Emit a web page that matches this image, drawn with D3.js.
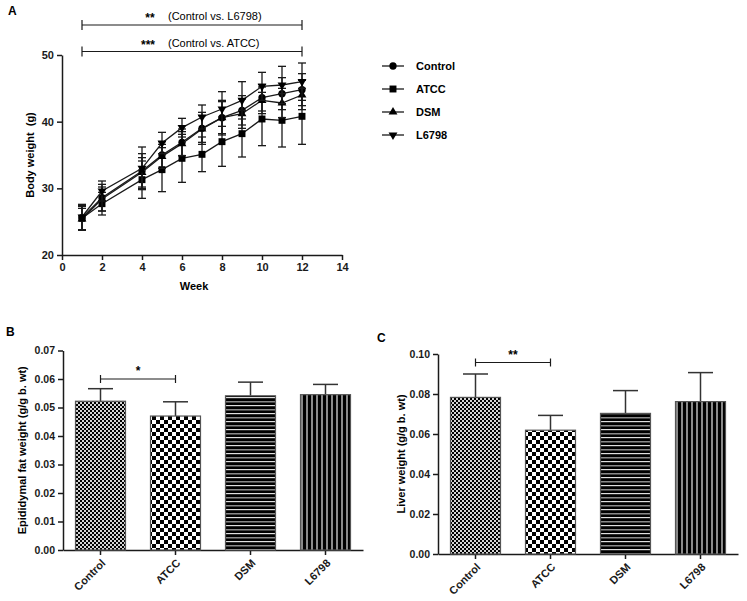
<!DOCTYPE html>
<html><head><meta charset="utf-8">
<script src="https://cdn.jsdelivr.net/npm/d3@7"></script>
<style>
body{margin:0;background:#fff;}
text{font-family:"Liberation Sans",Arial,sans-serif;}
</style></head>
<body>
<svg id="c" width="747" height="601"></svg>
<script>
// ---- Data ----
const weeks = [1,2,4,5,6,7,8,9,10,11,12];
const seriesNames = ["Control","ATCC","DSM","L6798"];
const controlW = [25.6, 28.6, 32.6, 35.0, 36.9, 39.0, 40.6, 41.7, 43.6, 44.2, 44.8];
const atccW    = [25.5, 27.7, 31.3, 32.8, 34.5, 35.1, 37.0, 38.2, 40.4, 40.2, 40.8];
const dsmW     = [25.4, 28.4, 32.4, 34.8, 36.7, 38.9, 40.6, 41.2, 43.2, 42.8, 44.0];
const l6798W   = [25.7, 29.6, 33.0, 36.8, 39.1, 40.7, 41.9, 43.2, 45.3, 45.5, 46.0];
const controlSD = [1.8, 2.0, 2.6, 2.0, 2.0, 2.4, 2.6, 2.2, 2.0, 2.4, 2.4];
const atccSD    = [1.8, 1.7, 2.8, 3.3, 3.6, 2.6, 3.7, 3.5, 4.0, 4.0, 4.2];
const dsmSD     = [1.6, 1.8, 2.2, 1.8, 1.8, 2.0, 2.4, 2.2, 2.0, 2.2, 2.2];
const l6798SD   = [1.9, 1.5, 3.2, 1.6, 1.4, 1.8, 2.6, 2.8, 2.1, 2.8, 2.8];
const xTicksA = [0,2,4,6,8,10,12,14];
const yTicksA = [20,30,40,50];

const groups = ["Control","ATCC","DSM","L6798"];
const fatMean = [0.0522, 0.0470, 0.0541, 0.0545];
const fatSD   = [0.0044, 0.0050, 0.0048, 0.0036];
const liverMean = [0.0783, 0.0619, 0.0703, 0.0762];
const liverSD   = [0.0117, 0.0074, 0.0114, 0.0145];
const yTicksB = [0,0.01,0.02,0.03,0.04,0.05,0.06,0.07];
const yTicksC = [0,0.02,0.04,0.06,0.08,0.10];

const svg = d3.select("#c");
const ink = "#1a1a1a";

// ---- Patterns ----
const defs = svg.append("defs");
let p = defs.append("pattern").attr("id","pCtrl").attr("patternUnits","userSpaceOnUse").attr("width",4).attr("height",4);
p.append("rect").attr("width",4).attr("height",4).attr("fill","#d4d4d4");
p.append("rect").attr("width",2).attr("height",2).attr("fill","#000");
p.append("rect").attr("x",2).attr("y",2).attr("width",2).attr("height",2).attr("fill","#000");
p = defs.append("pattern").attr("id","pAtcc").attr("patternUnits","userSpaceOnUse").attr("width",8).attr("height",8);
p.append("rect").attr("width",8).attr("height",8).attr("fill","#fff");
p.append("rect").attr("width",4).attr("height",4).attr("fill","#000");
p.append("rect").attr("x",4).attr("y",4).attr("width",4).attr("height",4).attr("fill","#000");
p = defs.append("pattern").attr("id","pDsm").attr("patternUnits","userSpaceOnUse").attr("width",8).attr("height",8);
p.append("rect").attr("width",8).attr("height",8).attr("fill","#000");
p.append("rect").attr("y",1).attr("width",8).attr("height",1.5).attr("fill","#8a8a8a");
p.append("rect").attr("y",5).attr("width",8).attr("height",1.2).attr("fill","#e0e0e0");
p = defs.append("pattern").attr("id","pL").attr("patternUnits","userSpaceOnUse").attr("width",5).attr("height",5);
p.append("rect").attr("width",5).attr("height",5).attr("fill","#000");
p.append("rect").attr("x",1).attr("width",2).attr("height",5).attr("fill","#8a8a8a");
const fills = ["url(#pCtrl)","url(#pAtcc)","url(#pDsm)","url(#pL)"];

function styleAxis(g){
  g.selectAll("path").attr("stroke",ink).attr("stroke-width",1.5);
  g.selectAll("line").attr("stroke",ink).attr("stroke-width",1.5);
  g.selectAll("text").attr("font-size",11).attr("font-weight","bold").attr("fill",ink);
}

// ---- Panel A ----
const xA = d3.scaleLinear().domain([0,14]).range([62,342]);
const yA = d3.scaleLinear().domain([20,50]).range([255,55]);
const gxA = svg.append("g").attr("transform","translate(0,255)")
  .call(d3.axisBottom(xA).tickValues(xTicksA).tickSize(5).tickSizeOuter(0).tickFormat(d3.format("d")));
styleAxis(gxA);
const gyA = svg.append("g").attr("transform","translate(62,0)")
  .call(d3.axisLeft(yA).tickValues(yTicksA).tickSize(5).tickSizeOuter(0));
styleAxis(gyA);
svg.append("text").attr("x",(xA(0)+xA(14))/2 - 8).attr("y",290).attr("text-anchor","middle")
  .attr("font-size",11).attr("font-weight","bold").text("Week");
svg.append("text").attr("transform","translate(34,155) rotate(-90)").attr("text-anchor","middle")
  .attr("font-size",11).attr("font-weight","bold").attr("xml:space","preserve").text("Body weight  (g)");
svg.append("text").attr("x",8).attr("y",15).attr("font-size",12).attr("font-weight","bold").text("A");

const seriesVals = [controlW, atccW, dsmW, l6798W];
const seriesSD = [controlSD, atccSD, dsmSD, l6798SD];
const symbols = [d3.symbolCircle, d3.symbolSquare, d3.symbolTriangle, d3.symbolTriangle];
const symSize = [42, 48, 34, 34];
const symRot = [0,0,0,180];
const line = d3.line().x(d=>xA(d[0])).y(d=>yA(d[1]));
seriesVals.forEach((vals, si) => {
  const pts = weeks.map((w,i)=>[w, vals[i], seriesSD[si][i]]);
  const g = svg.append("g");
  pts.forEach(d=>{
    const x = xA(d[0]);
    g.append("line").attr("x1",x).attr("x2",x).attr("y1",yA(d[1]-d[2])).attr("y2",yA(d[1]+d[2])).attr("stroke",ink).attr("stroke-width",1.3);
    [d[1]-d[2], d[1]+d[2]].forEach(v=>{
      g.append("line").attr("x1",x-4).attr("x2",x+4).attr("y1",yA(v)).attr("y2",yA(v)).attr("stroke",ink).attr("stroke-width",1.3);
    });
  });
  g.append("path").datum(pts).attr("d",line).attr("fill","none").attr("stroke",ink).attr("stroke-width",1.3);
  pts.forEach(d=>{
    g.append("path").attr("d",d3.symbol().type(symbols[si]).size(symSize[si])())
      .attr("transform",`translate(${xA(d[0])},${yA(d[1])}) rotate(${symRot[si]})`).attr("fill","#000");
  });
});

// significance brackets A
function bracket(x1,x2,y,h){
  svg.append("line").attr("x1",x1).attr("x2",x2).attr("y1",y).attr("y2",y).attr("stroke",ink).attr("stroke-width",1.2);
  [x1,x2].forEach(x=>svg.append("line").attr("x1",x).attr("x2",x).attr("y1",y-h).attr("y2",y+h).attr("stroke",ink).attr("stroke-width",1.2));
}
bracket(xA(1),xA(12),25,5);
bracket(xA(1),xA(12),51.5,5);
svg.append("text").attr("x",150).attr("y",22).attr("text-anchor","middle").attr("font-size",12).attr("font-weight","bold").text("**");
svg.append("text").attr("x",168).attr("y",20).attr("font-size",11).text("(Control vs. L6798)");
svg.append("text").attr("x",148).attr("y",49).attr("text-anchor","middle").attr("font-size",12).attr("font-weight","bold").text("***");
svg.append("text").attr("x",168).attr("y",47).attr("font-size",11).text("(Control vs. ATCC)");

// legend
seriesNames.forEach((n,i)=>{
  const y = 66 + i*23;
  svg.append("line").attr("x1",382).attr("x2",404).attr("y1",y).attr("y2",y).attr("stroke",ink).attr("stroke-width",1.3);
  svg.append("path").attr("d",d3.symbol().type(symbols[i]).size(symSize[i])())
    .attr("transform",`translate(393,${y}) rotate(${symRot[i]})`).attr("fill","#000");
  svg.append("text").attr("x",416).attr("y",y+4).attr("font-size",11).attr("font-weight","bold").text(n);
});

// ---- Bar panels ----
function barPanel(opts){
  const x = d3.scaleBand().domain(groups).range([opts.x0, opts.x0+300]).paddingInner(1/3).paddingOuter(1/6);
  const y = d3.scaleLinear().domain(opts.ydom).range([opts.y0, opts.y1]);
  const gx = svg.append("g").attr("transform",`translate(0,${opts.y0})`)
    .call(d3.axisBottom(x).tickSize(5).tickSizeOuter(0));
  styleAxis(gx);
  gx.selectAll("text").attr("text-anchor","end").attr("font-size",11)
    .attr("x",0).attr("y",0).attr("dy","0.35em")
    .attr("transform","translate(3,11) rotate(-45)");
  const gy = svg.append("g").attr("transform",`translate(${opts.x0},0)`)
    .call(d3.axisLeft(y).tickValues(opts.ticks).tickSize(5).tickSizeOuter(0).tickFormat(d3.format(opts.fmt)));
  styleAxis(gy);
  gy.selectAll("text").attr("font-size",10.5);
  const bars = svg.append("g");
  groups.forEach((gname,i)=>{
    const m = opts.mean[i], s = opts.sd[i];
    const cx = x(gname)+x.bandwidth()/2;
    bars.append("line").attr("x1",cx).attr("x2",cx).attr("y1",y(m)).attr("y2",y(m+s)).attr("stroke","#333").attr("stroke-width",1.5);
    bars.append("line").attr("x1",cx-12.5).attr("x2",cx+12.5).attr("y1",y(m+s)).attr("y2",y(m+s)).attr("stroke","#333").attr("stroke-width",1.5);
    bars.append("rect").attr("x",x(gname)).attr("width",x.bandwidth()).attr("y",y(m)).attr("height",opts.y0-y(m))
      .attr("fill",fills[i]).attr("stroke","#555").attr("stroke-width",1.2);
  });
  // significance
  const c0 = x(groups[0])+x.bandwidth()/2, c1 = x(groups[1])+x.bandwidth()/2;
  bracket(c0,c1,opts.sigY,4);
  svg.append("text").attr("x",(c0+c1)/2).attr("y",opts.sigY-4).attr("text-anchor","middle").attr("font-size",12).attr("font-weight","bold").text(opts.sig);
  svg.append("text").attr("transform",`translate(${opts.titleX},${(opts.y0+opts.y1)/2}) rotate(-90)`).attr("text-anchor","middle")
    .attr("font-size",11).attr("font-weight","bold").text(opts.title);
  svg.append("text").attr("x",opts.labX).attr("y",opts.labY).attr("font-size",12).attr("font-weight","bold").text(opts.lab);
}
barPanel({x0:63, y0:550, y1:350.5, ydom:[0,0.07], ticks:yTicksB, fmt:".2f", mean:fatMean, sd:fatSD,
  sigY:379, sig:"*", titleX:26, title:"Epididymal fat weight (g/g b. wt)", lab:"B", labX:6, labY:336});
barPanel({x0:438, y0:554, y1:354, ydom:[0,0.10], ticks:yTicksC, fmt:".2f", mean:liverMean, sd:liverSD,
  sigY:362.5, sig:"**", titleX:405, title:"Liver weight (g/g b. wt)", lab:"C", labX:377, labY:342});
</script>
</body></html>
